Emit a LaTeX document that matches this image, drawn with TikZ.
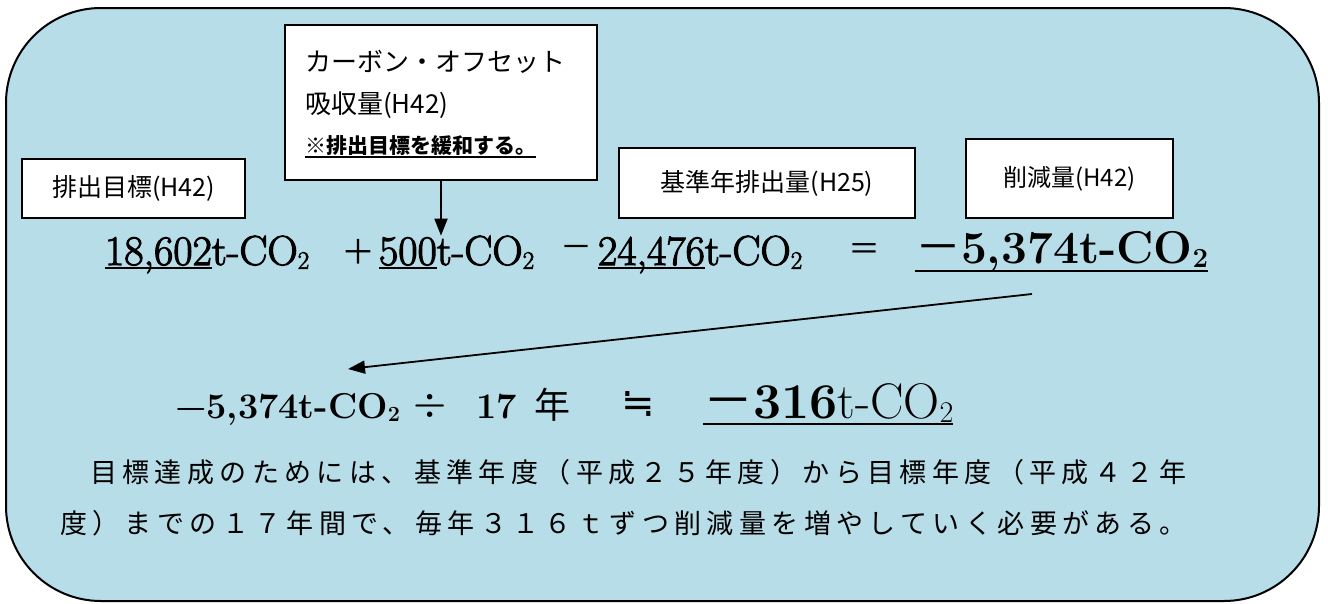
\documentclass[tikz,border=0pt]{standalone}
\usepackage{graphicx}
\usepackage{fontspec}
\usetikzlibrary{arrows.meta}
\newfontfamily\jp{Noto Sans CJK JP}
\newfontfamily\jpsp[LetterSpace=20]{Noto Sans CJK JP}
\newfontfamily\dv{DejaVu Sans}
\newfontfamily\semib[FakeBold=2.5]{Latin Modern Roman}
\definecolor{bgblue}{RGB}{183,221,232}
\newsavebox\ulbox
\newcommand\ulx[2][4pt]{\sbox\ulbox{#2}\rlap{\rule[-#1]{\wd\ulbox}{2pt}}\usebox\ulbox}
\newcommand\fs[1]{\fontsize{#1}{#1}\selectfont}
\newcommand\sub[1]{\raisebox{-0.09em}{\scalebox{0.6}{#1}}}
\newcommand\cotwo{t-CO\sub{2}}
\begin{document}
\begin{tikzpicture}[x=1pt,y=-1pt,
  box/.style={draw=black, line width=1.4pt, fill=white, inner sep=0pt},
  txt/.style={inner sep=0pt, outer sep=0pt},
  arr/.style={line width=1.8pt, -{Triangle[length=17pt,width=13pt]}}]
\useasboundingbox (0,0) rectangle (1328,603);
\draw[line width=2pt, fill=bgblue, rounded corners=95pt] (6,8) rectangle (1319,601);
% label boxes
\node[box, minimum width=223pt, minimum height=59pt] (b1) at (133.5,188.5) {\jp\fs{25}排出目標(H42)};
\node[box, minimum width=312pt, minimum height=155pt] (cb) at (441,102.5) {};
\node[txt, anchor=west] (c1) at (305,62) {\jp\fs{26}カーボン・オフセット};
\node[txt, anchor=west] (c2) at (305,105) {\jp\fs{26}吸収量(H42)};
\node[txt, anchor=west] (c3) at (305,147) {\jp\bfseries\fs{21}\ulx[5pt]{※排出目標を緩和する。}};
\node[box, minimum width=296pt, minimum height=70pt] (b2) at (767,183) {\jp\fs{25}基準年排出量(H25)};
\node[box, minimum width=207pt, minimum height=79pt] (b3) at (1069.5,178.5) {\jp\fs{24}削減量(H42)};
% equation line 1
\node[txt, anchor=base west] (e1) at (105,265) {\semib\fs{42}\ulx{18,602}\cotwo};
\node[txt] (op1) at (358,252) {\jp\fs{34}＋};
\node[txt, anchor=base west] (e2) at (379,265) {\semib\fs{42}\ulx{500}\cotwo};
\node[txt] (op2) at (576,252) {\jp\fs{32}－};
\node[txt, anchor=base west] (e3) at (598,265) {\semib\fs{42}\ulx{24,476}\cotwo};
\node[txt] (op3) at (864,252) {\jp\fs{32}＝};
\node[txt, anchor=base west] (e4) at (915,263) {\fs{46}\bfseries\ulx[9pt]{{\jp\mdseries －}5,374\cotwo}};
\draw[arr] (cb.south) -- (cb.south |- e2.north);
% equation line 2
\node[txt, anchor=base west] (m1) at (175,418) {\fs{36}\bfseries\textminus5,374\cotwo};
\node[txt] (d1) at (430,406) {\fs{38}\bfseries ÷};
\node[txt, anchor=base west] (m2) at (476,418) {\fs{36}\bfseries 17};
\node[txt, anchor=base west] (m3) at (534,418) {\jp\fs{36}年};
\node[txt] (d2) at (638,404) {\dv\fs{40}≒};
\node[txt, anchor=base west] (m4) at (703,418) {\fs{50}\ulx[7pt]{{\jp －}\textbf{316}\cotwo}};
\coordinate (s2) at (1032,294);
\coordinate (t2) at (348,369);
\draw[arr] (s2) -- (t2);
% paragraph
\node[txt, anchor=west] (p1) at (90,472) {\jpsp\fs{27}目標達成のためには、基準年度（平成２５年度）から目標年度（平成４２年};
\node[txt, anchor=west] (p2) at (60,523) {\jpsp\fs{27}度）までの１７年間で、毎年３１６ｔずつ削減量を増やしていく必要がある。};
\end{tikzpicture}
\end{document}
